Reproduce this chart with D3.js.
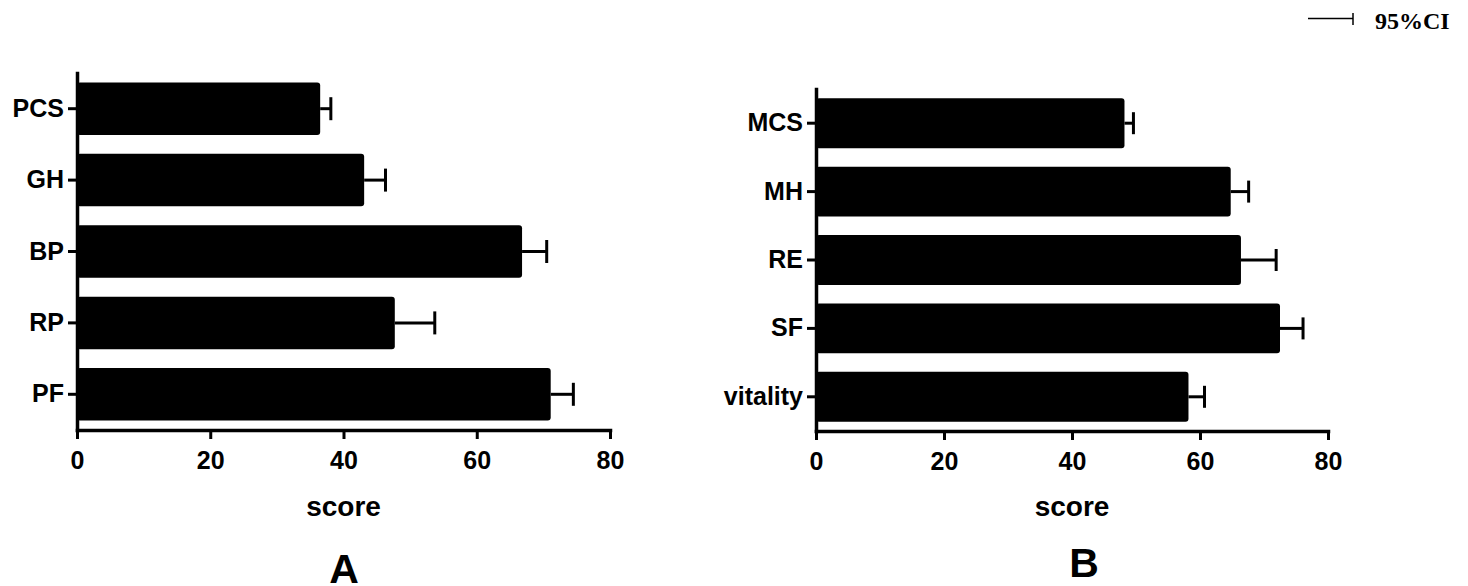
<!DOCTYPE html>
<html>
<head>
<meta charset="utf-8">
<script src="https://cdn.jsdelivr.net/npm/d3@7"></script>
<style>
  html, body { margin: 0; padding: 0; background: #fff; }
  svg { display: block; }
  text { font-family: "Liberation Sans", Arial, sans-serif; font-weight: bold; fill: #000; }
</style>
</head>
<body>
<svg id="chart" width="1468" height="586"></svg>
<script>
// ---- data ----
const categoriesA = ["PCS", "GH", "BP", "RP", "PF"];
const meansA      = [36.5, 43.1, 66.8, 47.7, 71.1];
const upperCIA    = [38.1, 46.3, 70.5, 53.7, 74.5];

const categoriesB = ["MCS", "MH", "RE", "SF", "vitality"];
const meansB      = [48.2, 64.8, 66.4, 72.5, 58.2];
const upperCIB    = [49.6, 67.6, 71.9, 76.1, 60.7];

const xTicks = [0, 20, 40, 60, 80];
const xTitle = "score";
const panelLabels = ["A", "B"];
const legendLabel = "95%CI";

const svg = d3.select("#chart");

function drawPanel(cfg) {
  const g = svg.append("g");
  const x = d3.scaleLinear().domain([0, 80]).range([cfg.x0, cfg.x1]);
  const y = d3.scaleBand().domain(cfg.cats).range([cfg.yTop, cfg.yBottom])
    .paddingInner(cfg.pad).paddingOuter(cfg.pad / 2);

  // bars
  g.selectAll("rect.bar").data(cfg.cats).enter().append("rect")
    .attr("x", x(0))
    .attr("y", d => y(d))
    .attr("width", (d, i) => x(cfg.means[i]) - x(0))
    .attr("height", y.bandwidth())
    .attr("rx", 3)
    .attr("fill", "#000");

  // error bars
  const cap = cfg.cap;
  cfg.cats.forEach((c, i) => {
    const cy = y(c) + y.bandwidth() / 2;
    g.append("line")
      .attr("x1", x(cfg.means[i])).attr("x2", x(cfg.upper[i]))
      .attr("y1", cy).attr("y2", cy)
      .attr("stroke", "#000").attr("stroke-width", 3);
    g.append("line")
      .attr("x1", x(cfg.upper[i])).attr("x2", x(cfg.upper[i]))
      .attr("y1", cy - cap).attr("y2", cy + cap)
      .attr("stroke", "#000").attr("stroke-width", 3);
  });

  // x axis
  const xa = g.append("g")
    .attr("transform", `translate(0,${cfg.yBottom})`)
    .call(d3.axisBottom(x).tickValues(xTicks).tickSize(9).tickSizeOuter(0).tickPadding(12));
  xa.select(".domain").attr("stroke-width", 3.5).attr("stroke-linecap", "square");
  xa.selectAll(".tick line").attr("stroke-width", 3);
  xa.selectAll(".tick text").style("font-size", "25px").attr("fill", "#000");

  // y axis
  const ya = g.append("g")
    .attr("transform", `translate(${cfg.x0},0)`)
    .call(d3.axisLeft(y).tickSize(9).tickSizeOuter(0).tickPadding(4));
  ya.select(".domain").attr("stroke-width", 3.5).attr("stroke-linecap", "square");
  ya.selectAll(".tick line").attr("stroke-width", 3);
  ya.selectAll(".tick text").style("font-size", "25px").attr("fill", "#000");

  // axis title
  g.append("text")
    .attr("x", (cfg.x0 + cfg.x1) / 2)
    .attr("y", 516)
    .attr("text-anchor", "middle")
    .style("font-size", "28px")
    .text(xTitle);

  // panel label
  g.append("text")
    .attr("x", cfg.labelX)
    .attr("y", cfg.labelY)
    .attr("text-anchor", "middle")
    .style("font-size", cfg.labelSize + "px")
    .text(cfg.label);
}

drawPanel({
  cats: categoriesA, means: meansA, upper: upperCIA,
  x0: 77, x1: 610, yTop: 73, yBottom: 430, pad: 0.265, cap: 11.5,
  label: panelLabels[0], labelX: 344, labelY: 583, labelSize: 41
});

drawPanel({
  cats: categoriesB, means: meansB, upper: upperCIB,
  x0: 816, x1: 1328, yTop: 89, yBottom: 431, pad: 0.27, cap: 11,
  label: panelLabels[1], labelX: 1084, labelY: 577, labelSize: 41
});

// legend
const lg = svg.append("g");
lg.append("line").attr("x1", 1308).attr("x2", 1353).attr("y1", 18.5).attr("y2", 18.5)
  .attr("stroke", "#000").attr("stroke-width", 1.5);
lg.append("line").attr("x1", 1353).attr("x2", 1353).attr("y1", 13).attr("y2", 25)
  .attr("stroke", "#000").attr("stroke-width", 1.5);
lg.append("text").attr("x", 1375).attr("y", 28.5)
  .style("font-family", "'Liberation Serif', 'Times New Roman', serif")
  .style("font-size", "24px")
  .text(legendLabel);
</script>
</body>
</html>
